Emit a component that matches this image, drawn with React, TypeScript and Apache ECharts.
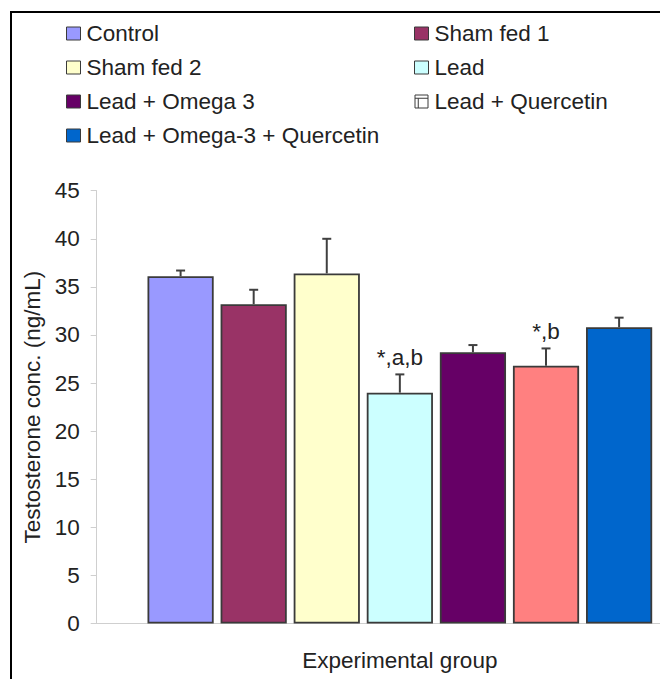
import React, { useEffect, useRef } from "react";
import * as echarts from "echarts";

const groups = [
  "Control",
  "Sham fed 1",
  "Sham fed 2",
  "Lead",
  "Lead + Omega 3",
  "Lead + Quercetin",
  "Lead + Omega-3 + Quercetin",
];
const means = [36.1, 33.2, 36.4, 24.0, 28.2, 26.8, 30.8];
const errors = [0.6, 1.5, 3.6, 1.9, 0.75, 1.8, 1.0];
const notes = ["", "", "", "*,a,b", "", "*,b", ""];
const colors = ["#9999FF", "#993366", "#FFFFCC", "#CCFFFF", "#660066", "#FF8080", "#0066CC"];
const categoryLabel = ["Testosterone"];
const yMin = 0;
const yMax = 45;
const yStep = 5;

const BAR_W = 66.2;
const BAR_GAP = 0.104;
const FONT = "'Liberation Sans', Arial, sans-serif";
const TEXT = "#222";
const FS = 22.5;

export default function App() {
  const ref = useRef<HTMLDivElement>(null);
  useEffect(() => {
    document.body.style.margin = "0";
    const chart = echarts.init(ref.current!, null, { renderer: "svg" });

    const barSeries = groups.map((name, i) => ({
      name,
      type: "bar",
      data: [means[i]],
      barWidth: BAR_W,
      barGap: `${BAR_GAP * 100}%`,
      itemStyle: { color: colors[i], borderColor: "#3a3a3a", borderWidth: 1.8 },
      emphasis: { disabled: true },
      silent: true,
    }));

    const legendBase = {
      orient: "vertical",
      padding: 0,
      icon: "rect",
      itemWidth: 14,
      itemHeight: 13,
      itemGap: 11,
      selectedMode: false,
      itemStyle: { borderColor: "#3a3a3a", borderWidth: 1 },
      textStyle: { fontSize: FS, fontFamily: FONT, color: TEXT, lineHeight: 22, padding: [0, 0, 0, 1] },
    };

    const option: any = {
      animation: false,
      backgroundColor: "#fff",
      graphic: [
        {
          type: "rect",
          shape: { x: 11, y: 12, width: 800, height: 800 },
          style: { fill: "none", stroke: "#000", lineWidth: 2 },
          silent: true,
        },
      ],
      legend: [
        { ...legendBase, left: 66, top: 22, data: [groups[0], groups[2], groups[4], groups[6]] },
        {
          ...legendBase,
          left: 414,
          top: 22,
          data: [
            groups[1],
            groups[3],
            {
              name: groups[5],
              icon: "path://M0,0L12,0L12,12L0,12Z M0,3L12,3 M3,3L3,12",
              itemStyle: { color: "#fff", borderColor: "#3a3a3a", borderWidth: 1 },
            },
          ],
        },
      ],
      grid: { left: 96.7, right: 0, top: 190.7, bottom: 55.5, containLabel: false },
      xAxis: {
        type: "category",
        data: categoryLabel,
        axisLabel: { show: false },
        axisTick: { show: false },
        axisLine: { lineStyle: { color: "#cfcfcf", width: 1 } },
        name: "Experimental group",
        nameLocation: "middle",
        nameGap: 25,
        nameTextStyle: { fontSize: FS, fontFamily: FONT, color: TEXT },
      },
      yAxis: {
        type: "value",
        min: yMin,
        max: yMax,
        interval: yStep,
        axisLine: { show: true, lineStyle: { color: "#cfcfcf", width: 1 } },
        axisTick: { show: true, length: 6, lineStyle: { color: "#cfcfcf" } },
        splitLine: { show: false },
        axisLabel: { fontSize: FS, fontFamily: FONT, color: TEXT, margin: 17 },
        name: "Testosterone conc. (ng/mL)",
        nameLocation: "middle",
        nameGap: 52.5,
        nameTextStyle: { fontSize: FS, fontFamily: FONT, color: TEXT },
      },
      series: [
        ...barSeries,
        {
          type: "custom",
          z: 10,
          silent: true,
          data: groups.map((_, i) => [0, means[i], errors[i], i]),
          renderItem: (_params: any, api: any) => {
            const i = api.value(3);
            const v = api.value(1);
            const e = api.value(2);
            const base = api.coord([0, v]);
            const top = api.coord([0, v + e]);
            const pitch = BAR_W * (1 + BAR_GAP);
            const x = base[0] + (i - (groups.length - 1) / 2) * pitch;
            const stroke = { stroke: "#404040", lineWidth: 2 };
            const children: any[] = [
              { type: "line", shape: { x1: x, y1: base[1], x2: x, y2: top[1] }, style: stroke },
              { type: "line", shape: { x1: x - 4.5, y1: top[1], x2: x + 4.5, y2: top[1] }, style: stroke },
            ];
            const note = notes[i];
            if (note) {
              children.push({
                type: "text",
                style: {
                  text: note,
                  x,
                  y: top[1] - 17,
                  align: "center",
                  verticalAlign: "middle",
                  fontSize: FS,
                  fontFamily: FONT,
                  fill: TEXT,
                },
              });
            }
            return { type: "group", children };
          },
        },
      ],
    };

    chart.setOption(option);
    return () => chart.dispose();
  }, []);
  return (
    <div style={{ width: 660, height: 679, overflow: "hidden", position: "relative" }}>
      <div ref={ref} style={{ width: 703, height: 679 }} />
    </div>
  );
}
